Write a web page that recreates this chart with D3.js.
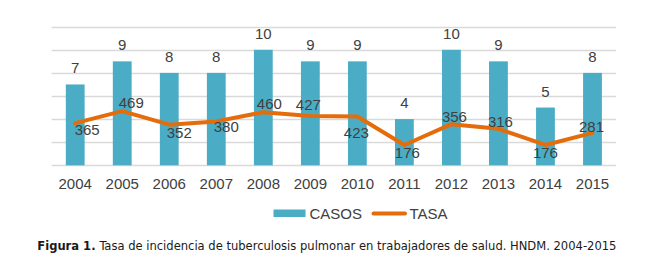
<!DOCTYPE html>
<html><head><meta charset="utf-8">
<script src="https://cdn.jsdelivr.net/npm/d3@7"></script>
<style>
body{margin:0;background:#fff;}
svg{display:block;}
</style></head>
<body>
<svg id="chart" width="650" height="276"></svg>
<script>
const years = ["2004","2005","2006","2007","2008","2009","2010","2011","2012","2013","2014","2015"];
const casos = [7,9,8,8,10,9,9,4,10,9,5,8];
const tasa = [365,469,352,380,460,427,423,176,356,316,176,281];
const casosTicks = [0,2,4,6,8,10,12];
const seriesNames = ["CASOS","TASA"];
const captionLead = "Figura 1.";
const caption = "Tasa de incidencia de tuberculosis pulmonar en trabajadores de salud. HNDM. 2004-2015";

// label placement (style only): offsets of the TASA labels from their points
const tasaLabelDx = [12,9,10,10,6,-2,-1,3,3,2,0,-1];
const tasaLabelDy = [7,-8,8,5,-8,-11,16,8,-7,-7,8,-6];

const svg = d3.select("#chart");
const m = {left:51.7, right:616, top:26.7, bottom:165.3};
const x = d3.scaleBand().domain(years).range([m.left, m.right]).paddingInner(0.6).paddingOuter(0.3);
const y = d3.scaleLinear().domain([0,12]).range([m.bottom, m.top]);
const y2 = d3.scaleLinear().domain([0,1200]).range([m.bottom, m.top]);
const textColor = "#404040";
const font = "Arial, 'Liberation Sans', sans-serif";

// gridlines
svg.append("g").selectAll("line").data(casosTicks).join("line")
  .attr("x1", m.left).attr("x2", m.right)
  .attr("y1", d=>Math.round(y(d))+0.5).attr("y2", d=>Math.round(y(d))+0.5)
  .attr("stroke", "#d9d9d9").attr("stroke-width", 1.5);

// x axis labels
const xAxis = d3.axisBottom(x).tickSize(0).tickPadding(0);
const gx = svg.append("g").attr("transform", `translate(0,${m.bottom+12})`).call(xAxis);
gx.select(".domain").remove();
gx.selectAll("text").attr("font-family", font).attr("font-size", 15).attr("fill", textColor).attr("dy","0.75em");

// bars
svg.append("g").selectAll("rect").data(casos).join("rect")
  .attr("x", (d,i)=>x(years[i])).attr("width", x.bandwidth())
  .attr("y", d=>y(d)).attr("height", d=>y(0)-y(d))
  .attr("fill", "#4bacc6");

// bar labels
svg.append("g").selectAll("text").data(casos).join("text")
  .attr("x", (d,i)=>x(years[i])+x.bandwidth()/2).attr("y", d=>y(d)-11)
  .attr("text-anchor","middle").attr("font-family", font).attr("font-size", 15)
  .attr("fill", textColor).text(d=>d);

// line
const line = d3.line().x((d,i)=>x(years[i])+x.bandwidth()/2).y(d=>y2(d));
svg.append("path").datum(tasa).attr("d", line)
  .attr("fill","none").attr("stroke","#e46c0a").attr("stroke-width",4)
  .attr("stroke-linejoin","round").attr("stroke-linecap","round");

// line labels
svg.append("g").selectAll("text").data(tasa).join("text")
  .attr("x", (d,i)=>x(years[i])+x.bandwidth()/2+tasaLabelDx[i])
  .attr("y", (d,i)=>y2(d)+tasaLabelDy[i])
  .attr("dy","0.35em")
  .attr("text-anchor","middle").attr("font-family", font).attr("font-size", 15)
  .attr("fill", textColor).text(d=>d);

// legend
const lg = svg.append("g");
lg.append("rect").attr("x",273.5).attr("y",209.5).attr("width",32).attr("height",7.5).attr("fill","#4bacc6");
lg.append("text").attr("x",309.5).attr("y",213.5).attr("dy","0.35em").attr("font-family",font).attr("font-size",15).attr("fill",textColor).text(seriesNames[0]);
lg.append("line").attr("x1",373.5).attr("x2",405).attr("y1",213.5).attr("y2",213.5).attr("stroke","#e46c0a").attr("stroke-width",4).attr("stroke-linecap","round");
lg.append("text").attr("x",409.5).attr("y",213.5).attr("dy","0.35em").attr("font-family",font).attr("font-size",15).attr("fill",textColor).text(seriesNames[1]);

// caption
const capFont = "'DejaVu Sans Condensed', 'DejaVu Sans', sans-serif";
const capX0 = 37.3, capX1 = 616.7, capY = 249.5;
const t1 = svg.append("text").attr("x",capX0).attr("y",capY).attr("font-family",capFont)
  .attr("font-size",12).attr("font-weight","bold").attr("fill","#1a1a1a").text(captionLead);
const t2 = svg.append("text").attr("y",capY).attr("font-family",capFont)
  .attr("font-size",12).attr("fill","#1a1a1a").text(caption);
const w1 = t1.node().getComputedTextLength();
const w2 = t2.node().getComputedTextLength();
const gap = 12*0.3;
const k = (capX1-capX0)/(w1+w2+gap);
const fs = 12*k;
t1.attr("font-size", fs);
t2.attr("font-size", fs).attr("x", capX0 + (w1+gap)*k);
</script>
</body></html>
